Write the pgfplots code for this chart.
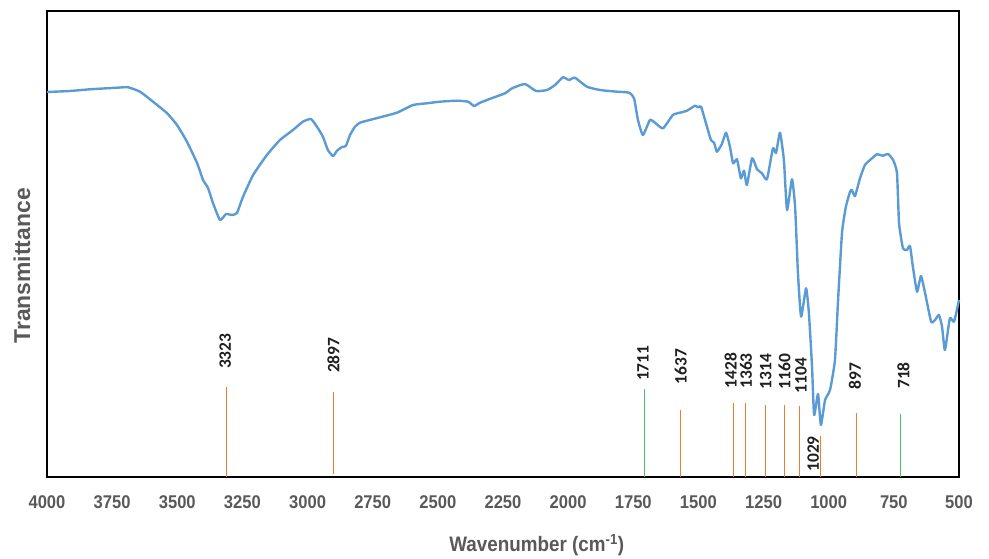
\documentclass[border=0pt]{standalone}
\usepackage{pgfplots}
\pgfplotsset{compat=1.18}
\usepackage{fontspec}
\setmainfont{Liberation Sans}
\newfontfamily\peakfont{Carlito}
\definecolor{curve}{HTML}{5B9BD5}
\definecolor{pkor}{HTML}{ED7D31}
\definecolor{pkgr}{HTML}{4CBB6A}
\definecolor{lblgray}{HTML}{595959}
\newcommand\sx[1]{\scalebox{0.9}[1]{#1}}
\pgfplotstableread{
w y
4000 385
3912 386
3835 387.7
3731 389.3
3689 389.7
3643 385.3
3593 375.3
3540 364
3501 352
3463 335.3
3424 314
3401 297
3382 289
3363 274
3336 257
3313 263
3290 262
3271 264
3248 280
3209 302
3156 322
3106 337
3056 347
3018 355.3
2987 358
2964 350.3
2941 340.3
2922 327
2902 321
2887 326.3
2868 330
2853 331
2837 342
2818 350.3
2799 354.3
2772 356.3
2722 359.7
2657 364.3
2595 372
2542 373.7
2492 375.3
2427 376.3
2384 375.3
2361 371
2338 374.3
2288 379.3
2242 383.7
2215 388.7
2166 393
2123 386
2081 387
2050 392
2020 399.7
1997 397
1974 399.3
1928 390.3
1878 387
1812 385.3
1766 384.3
1747 378.7
1732 357
1713 342
1686 357
1667 354.3
1636 348.7
1598 362
1571 364.3
1544 366.3
1513 371.3
1502 369.7
1490 370.3
1471 353.7
1452 337
1440 334.3
1429 325.3
1410 333
1394 344.3
1379 330.3
1367 313.7
1352 317.7
1337 298.7
1325 306.3
1314 292
1294 318.7
1275 307.7
1256 303.7
1237 297.7
1214 328.7
1202 324
1187 344.3
1172 317
1160 267
1141 297.7
1129 270.3
1118 203.7
1106 160.3
1087 188.7
1076 164
1064 110.3
1056 62
1041 83
1030 52
1014 77
995 87
976 117
964 177
949 244
934 270.3
918 285.3
911 287
899 281
880 298.7
861 312
834 318.7
815 322.7
792 321.3
772 323
753 317
738 304
730 253.7
715 228.7
700 227
688 231
677 210.3
661 185.3
646 201
630 183.7
607 155.3
592 157
577 162
565 150.3
554 127
535 158.7
519 155.3
500 177
}\spectrum
\begin{document}
\begin{tikzpicture}
\path[use as bounding box] (-47bp,-82bp) rectangle (942bp,477bp);
\begin{axis}[
  at={(0,0)}, anchor=south west,
  scale only axis, width=912bp, height=466bp,
  xmin=500, xmax=4000, ymin=0, ymax=466,
  x dir=reverse,
  axis line style={black, line width=1.8bp},
  xtick={500,750,1000,1250,1500,1750,2000,2250,2500,2750,3000,3250,3500,3750,4000},
  xticklabels={\sx{500},\sx{750},\sx{1000},\sx{1250},\sx{1500},\sx{1750},\sx{2000},\sx{2250},\sx{2500},\sx{2750},\sx{3000},\sx{3250},\sx{3500},\sx{3750},\sx{4000}},
  xticklabel style={font=\fontsize{18.5}{20}\selectfont\bfseries, text=lblgray, anchor=base, yshift=-31bp},
  ytick=\empty,
  major tick length=0pt,
  xlabel={\sx{Wavenumber (cm\textsuperscript{-1})}},
  xlabel style={font=\fontsize{21}{24}\selectfont\bfseries, text=lblgray, at={(axis description cs:0.537,0)}, anchor=center, yshift=-68bp},
  ylabel={Transmittance},
  ylabel style={font=\fontsize{23}{26}\selectfont\bfseries, text=lblgray, at={(axis description cs:-0.0274,0.453)}, anchor=center},
  clip=false,
]
\addplot[curve, line width=2.4bp, line join=round, smooth, tension=0.3, no marks] table[x=w, y=y] {\spectrum};
% peak marker lines
\addplot[pkor, line width=1.1bp, no marks] coordinates {(3310,0) (3310,90)};
\addplot[pkor, line width=1.1bp, no marks] coordinates {(2901,3) (2901,85)};
\addplot[pkgr, line width=1.1bp, no marks] coordinates {(1708,0) (1708,87.7)};
\addplot[pkor, line width=1.1bp, no marks] coordinates {(1568,0) (1568,67)};
\addplot[pkor, line width=1.1bp, no marks] coordinates {(1366,0) (1366,73.7)};
\addplot[pkor, line width=1.1bp, no marks] coordinates {(1319,0) (1319,73.7)};
\addplot[pkor, line width=1.1bp, no marks] coordinates {(1244,0) (1244,72)};
\addplot[pkor, line width=1.1bp, no marks] coordinates {(1170,0) (1170,72)};
\addplot[pkor, line width=1.1bp, no marks] coordinates {(1113,0) (1113,71)};
\addplot[pkor, line width=1.1bp, no marks] coordinates {(1031,0) (1031,41)};
\addplot[pkor, line width=1.1bp, no marks] coordinates {(893,0) (893,64.3)};
\addplot[pkgr, line width=1.1bp, no marks] coordinates {(726,0) (726,63)};
% peak labels
\begin{scope}[every node/.style={rotate=90, font=\peakfont\bfseries\fontsize{17.5}{18}\selectfont, text=black!88, inner sep=0pt}]
\node at (axis cs:3316,125.8) {3323};
\node at (axis cs:2901,121.7) {2897};
\node at (axis cs:1713,113.7) {1711};
\node at (axis cs:1568,110.5) {1637};
\node at (axis cs:1376,106.5) {1428};
\node at (axis cs:1317,106) {1363};
\node at (axis cs:1242,105.5) {1314};
\node at (axis cs:1170,105.5) {1160};
\node at (axis cs:1106,101.5) {1104};
\node at (axis cs:1059,23) {1029};
\node at (axis cs:899,100.8) {897};
\node at (axis cs:713,101.5) {718};
\end{scope}
\end{axis}
\end{tikzpicture}
\end{document}
